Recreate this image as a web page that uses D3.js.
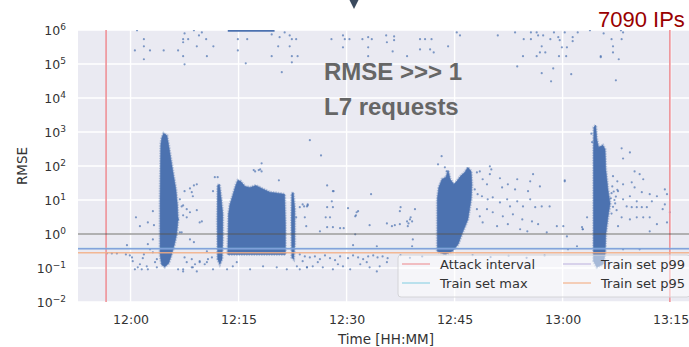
<!DOCTYPE html>
<html>
<head>
<meta charset="utf-8">
<script src="https://cdn.jsdelivr.net/npm/d3@7"></script>
<style>
body { margin: 0; background: #fff; }
svg { display: block; font-family: "DejaVu Sans", sans-serif; }
</style>
</head>
<body>
<div id="chart"></div>
<script>
//set margins height and width (plot runs a little past the right edge, like the cropped original)
const margin = { top: 30, right: -5, bottom: 45, left: 78 },
    complete_width = 689,
    complete_height = 347,
    width = complete_width - margin.left - margin.right,
    height = complete_height - margin.top - margin.bottom;

//---------------- data (minutes after 12:00, log10 of RMSE) ----------------
const x_domain = [-7.3, 78.25];
const y_exponents = [-2, -1, 0, 1, 2, 3, 4, 5, 6];
const attack_interval = [-3.4, 74.9];
//horizontal reference levels (RMSE)
const ref_levels = [
    { name: "threshold", value: 1.0 },
    { name: "Train set max", value: 0.375 },
    { name: "Train set p99", value: 0.37 },
    { name: "Train set p95", value: 0.28 }
];
//points piled up at the top of the axis
const saturated_band = [13.5, 20.0];

//dense clusters, outlines of the blobs
const cluster_1204 = [[4.2,2.64],[4.35,2.84],[4.6,2.96],[5.05,2.9],[5.3,2.6],[5.6,2.2],[5.95,1.75],[6.3,1.31],[6.5,0.87],[6.6,0.43],[6.4,-0.01],[6.1,-0.3],[5.7,-0.6],[5.3,-0.86],[4.75,-0.97],[4.3,-0.9],[4.1,-0.6],[4.1,1.02]];
const cluster_1212 = [[12.1,1.43],[12.35,1.46],[12.6,1.02],[12.8,0.58],[12.8,-0.16],[12.7,-0.74],[12.4,-0.89],[12.1,-0.74],[12.05,0.43]];
const cluster_1214 = [[13.5,-0.6],[13.6,0.58],[13.8,0.87],[14.2,1.14],[14.6,1.43],[14.9,1.58],[15.3,1.55],[15.9,1.4],[16.6,1.37],[17.4,1.43],[18.25,1.34],[19.35,1.23],[20.5,1.2],[21.4,1.17],[21.5,0.29],[21.5,-0.6]];
const cluster_1222 = [[22.4,1.19],[22.6,1.22],[22.8,0.73],[22.8,-0.3],[22.65,-0.74],[22.4,-0.69],[22.35,0.43]];
const cluster_1243 = [[42.6,-0.51],[42.6,1.02],[42.8,1.37],[43.25,1.61],[43.8,1.67],[44.1,1.87],[44.4,1.61],[44.9,1.46],[45.3,1.55],[45.9,1.72],[46.4,1.81],[46.85,1.96],[47.3,1.84],[47.4,1.46],[47.3,1.02],[46.85,0.43],[46.0,-0.01],[45.5,-0.3],[44.7,-0.51],[43.65,-0.6]];
const cluster_1304 = [[64.3,-0.8],[64.3,2.49],[64.35,3.14],[64.6,3.2],[64.75,2.79],[65.0,2.55],[65.6,2.61],[65.9,2.49],[66.0,1.9],[66.3,1.31],[66.6,0.9],[66.3,0.49],[66.0,-0.01],[65.9,-0.6],[65.6,-0.89],[64.75,-0.98]];

//sparse points
const top_points = [[0.9,5.99],[0.6,5.4],[1.85,5.73],[1.85,5.52],[1.85,5.14],[2.7,5.4],[4.6,5.4],[6.6,5.4],[7.3,5.73],[7.3,5.64],[7.5,5.9],[8.0,5.73],[8.8,5.99],[9.5,5.84],[9.9,5.93],[9.2,5.52],[10.5,5.73],[10.6,5.23],[11.5,5.52],[7.3,5.23],[7.5,4.99],[14.9,5.4],[14.9,5.73],[16.2,5.73],[16.0,5.02],[19.6,5.87],[20.7,5.79],[20.5,5.52],[21.4,5.93],[22.1,5.84],[22.4,5.73],[23.0,5.73],[22.1,5.52],[19.6,5.23],[22.4,5.23],[23.2,5.23],[22.4,5.05],[21.0,4.76],[27.9,5.73],[29.5,5.84],[29.75,5.73],[30.4,5.73],[29.5,5.49],[32.2,5.73],[33.0,5.79],[33.5,5.73],[33.0,5.49],[33.0,5.23],[35.5,5.84],[36.6,5.81],[35.6,5.64],[36.6,5.7],[36.4,5.37],[38.4,5.23],[40.2,5.73],[40.9,5.73],[41.8,5.73],[40.2,5.43],[41.6,5.43],[42.1,5.34],[44.1,5.52],[45.3,5.93],[45.75,5.84],[51.0,5.84],[53.4,5.93],[54.6,5.73],[55.6,5.93],[55.6,5.73],[56.4,5.93],[56.6,5.84],[57.3,5.84],[58.3,5.73],[58.8,5.93],[59.4,5.79],[59.6,5.7],[60.3,5.93],[61.4,5.79],[61.4,5.67],[62.1,5.93],[57.1,5.52],[56.85,5.34],[57.6,5.34],[59.9,5.49],[60.6,5.49],[54.5,5.23],[56.4,5.23],[59.5,5.23],[60.5,5.23],[65.3,5.23],[65.3,5.2],[63.8,5.99],[65.7,5.9],[66.8,5.73],[68.2,5.73],[67.0,5.52],[67.0,5.34],[67.8,5.14],[68.4,5.93],[53.7,4.93],[58.7,4.87],[57.1,4.73],[61.2,4.7],[58.4,4.49],[67.4,4.52],[68.1,5.99]];
const mid_points = [[12.1,1.67],[0.75,0.49],[3.1,0.67],[6.6,0.43],[7.1,0.81],[7.5,1.26],[8.25,1.34],[8.8,1.43],[8.65,1.11],[9.2,0.7],[9.6,0.34],[7.3,0.55],[7.8,0.73],[6.85,1.02],[24.9,2.76],[26.45,2.31],[18.2,2.08],[17.1,1.88],[17.8,1.88],[18.2,1.84],[20.6,1.58],[27.3,1.43],[28.2,1.26],[33.4,1.17],[37.5,0.79],[39.5,0.73],[30.2,0.76],[31.6,0.67],[31.3,0.55],[27.95,0.96],[28.1,0.79],[27.7,0.49],[27.1,0.49],[27.3,0.79],[27.3,0.2],[28.1,0.2],[29.1,0.17],[29.6,0.17],[23.5,0.79],[24.1,0.81],[24.6,0.84],[24.4,0.23],[23.0,0.49],[33.2,0.26],[35.6,0.31],[36.3,0.23],[37.4,0.29],[38.4,0.37],[38.8,0.43],[38.5,0.23],[38.6,0.31],[38.9,0.49],[39.1,0.37],[28.1,1.26],[24.6,0.87],[23.9,0.87],[24.2,0.49],[31.4,0.64],[31.2,0.52],[36.7,0.26],[37.4,0.67],[26.3,0.08],[43.2,2.29],[42.7,2.05],[43.65,1.96],[43.9,1.84],[7.8,0.49],[9.9,0.37],[8.25,0.64],[7.3,0.84],[8.5,1.23],[9.2,1.46],[11.45,1.26],[11.7,1.67],[17.3,1.84],[18.0,1.9],[24.5,0.81],[2.4,0.34],[1.3,0.23],[3.25,0.26],[7.1,0.05],[6.85,0.05]];
const low_points = [[-3.3,-0.57],[-2.6,-0.57],[-1.9,-0.57],[-0.5,-0.33],[-0.65,-0.6],[-0.1,-0.63],[0.2,-0.69],[0.3,-0.8],[0.6,-1.04],[1.0,-0.98],[1.3,-0.89],[1.55,-1.04],[1.7,-0.71],[2.25,-0.95],[2.4,-1.04],[3.1,-0.54],[3.4,-0.83],[3.65,-0.74],[2.4,-0.3],[6.6,-1.04],[7.3,-1.1],[7.8,-0.83],[8.5,-0.98],[8.95,-0.89],[9.2,-1.1],[9.6,-0.8],[10.3,-0.89],[10.75,-0.74],[11.3,-0.69],[11.45,-1.04],[13.4,-1.04],[14.2,-0.95],[8.25,-0.16],[8.8,-0.24],[10.6,-0.51],[3.65,-0.98],[7.5,-0.69],[8.5,-0.74],[10.6,-0.83],[14.75,-0.83],[16.6,-1.04],[18.4,-0.95],[20.3,-0.98],[21.7,-1.04],[23.1,-0.95],[23.9,-0.8],[24.5,-0.98],[23.5,-1.04],[7.3,-1.04],[8.65,-0.98],[9.6,-0.83],[3.1,-0.16],[2.7,-0.45],[1.85,-0.6],[23.5,-0.6],[24.2,-0.66],[24.9,-0.69],[25.6,-0.66],[26.3,-0.74],[27.0,-0.63],[27.7,-0.71],[28.4,-0.77],[29.1,-0.66],[30.2,-0.71],[30.9,-0.63],[31.6,-0.69],[32.3,-0.74],[33.0,-0.66],[33.7,-0.63],[34.3,-0.69],[35.0,-0.66],[35.7,-0.71],[25.3,-0.95],[26.7,-0.98],[28.1,-1.04],[29.5,-0.95],[30.5,-1.04],[31.9,-0.89],[33.2,-0.98],[34.6,-0.95],[35.6,-0.83],[24.5,-0.98],[28.8,-0.89],[32.8,-0.83],[26.0,-0.83],[34.2,-1.1],[31.2,-0.01],[30.9,-0.33],[34.2,-0.36],[39.2,-0.16],[39.1,-0.36],[37.5,-0.62],[38.8,-0.7],[40.5,-0.66],[47.5,-0.62],[50.0,-0.68],[52.5,-0.64],[55.0,-0.7],[57.5,-0.63],[60.75,-0.45],[62.0,-0.36],[60.6,-0.07],[68.4,-0.45],[70.7,-0.45],[62.8,0.14]];
const right_points = [[48.1,1.81],[48.5,1.84],[49.9,1.99],[50.1,1.9],[49.9,1.76],[48.9,1.61],[49.5,1.46],[51.3,1.64],[51.6,1.37],[52.4,1.46],[53.7,1.61],[53.4,1.31],[55.5,1.55],[55.9,1.76],[56.85,1.4],[55.2,1.26],[60.3,1.58],[48.8,1.11],[49.6,1.02],[50.3,1.08],[51.3,0.93],[52.3,1.02],[52.7,0.81],[53.7,0.96],[54.5,0.81],[55.5,1.02],[56.2,0.79],[57.1,0.81],[58.2,0.81],[50.3,0.64],[51.7,0.52],[53.1,0.58],[54.4,0.43],[55.75,0.37],[56.6,0.29],[59.2,0.23],[60.1,0.23],[48.9,0.34],[50.9,0.23],[52.4,0.29],[54.1,0.14],[55.1,0.08],[57.8,0.05],[63.4,0.49],[62.7,0.2],[48.1,0.73],[48.5,0.52],[49.5,0.73],[47.8,1.31],[48.2,1.17],[68.2,2.52],[69.35,2.4],[68.4,2.22],[70.0,1.84],[67.0,1.7],[67.6,1.55],[68.4,1.46],[69.6,1.52],[70.0,1.37],[71.0,1.23],[72.1,1.17],[73.1,1.11],[74.2,1.31],[74.5,1.17],[69.35,1.11],[70.3,0.96],[68.9,0.81],[69.6,0.79],[70.3,0.79],[71.0,0.79],[71.7,0.79],[72.4,0.96],[68.2,0.49],[69.35,0.43],[70.3,0.49],[71.2,0.49],[72.1,0.49],[73.1,0.29],[74.2,0.87],[74.9,0.64],[74.5,0.34],[67.7,0.23],[72.1,0.08],[68.4,1.02],[67.7,1.26],[73.9,0.73],[60.3,1.55],[62.8,0.14],[71.2,1.61],[70.7,1.76],[64.0,2.95],[64.1,2.7],[66.8,1.2],[67.2,1.0],[67.0,0.8],[67.4,1.1],[66.9,1.4],[67.3,0.9],[67.6,1.3],[66.8,0.6],[67.5,0.7],[66.7,1.05],[67.1,1.25]];

const legend_entries = ["Attack interval", "Train set max", "Train set p99", "Train set p95"];

//colours
const blue = "#4c72b0";
const level_colors = { "threshold": "#555555", "Train set max": "#8cd0e4", "Train set p99": "#7f9ad8", "Train set p95": "#f3ae84" };
const attack_color = "#ee9197";

//---------------- scales ----------------
const base = new Date(2021, 0, 1, 12, 0);
const toDate = m => new Date(base.getTime() + m * 60000);

const x = d3.scaleTime()
    .domain(x_domain.map(toDate))
    .range([0, width]);
const y = d3.scaleLog()
    .domain([1e-2, 1e6])
    .range([height, 0]);
const px = d => x(toDate(d[0]));
const py = d => y(Math.pow(10, d[1]));

const svg = d3.select("#chart")
    .append("svg")
    .attr("width", complete_width)
    .attr("height", complete_height);

const g = svg.append("g")
    .attr("transform", `translate(${margin.left},${margin.top})`);

svg.append("defs").append("clipPath")
    .attr("id", "plot_clip")
    .append("rect")
    .attr("width", width)
    .attr("height", height);

//background + grid
g.append("rect")
    .attr("width", width)
    .attr("height", height)
    .attr("fill", "#eaeaf2");

const x_ticks = x.ticks(d3.timeMinute.every(15));
g.append("g").selectAll("line")
    .data(x_ticks)
    .join("line")
    .attr("x1", d => x(d)).attr("x2", d => x(d))
    .attr("y1", 0).attr("y2", height)
    .attr("stroke", "#fff")
    .attr("stroke-width", 1.4);
g.append("g").selectAll("line")
    .data(y_exponents)
    .join("line")
    .attr("x1", 0).attr("x2", width)
    .attr("y1", d => y(Math.pow(10, d))).attr("y2", d => y(Math.pow(10, d)))
    .attr("stroke", "#fff")
    .attr("stroke-width", 1.4);

const plot = g.append("g").attr("clip-path", "url(#plot_clip)");

//dense clusters (soft edge first, then the solid core)
const outline = d3.line().x(px).y(py).curve(d3.curveLinearClosed);
const clusters = [cluster_1204, cluster_1212, cluster_1214, cluster_1222, cluster_1243, cluster_1304];
plot.append("g").selectAll("path")
    .data(clusters)
    .join("path")
    .attr("d", outline)
    .attr("fill", "none")
    .attr("stroke", blue)
    .attr("stroke-width", 3)
    .attr("stroke-opacity", 0.35)
    .attr("stroke-dasharray", "1.5 1");
plot.append("g").selectAll("path")
    .data(clusters)
    .join("path")
    .attr("d", outline)
    .attr("fill", blue)
    .attr("stroke", blue)
    .attr("stroke-width", 0.6);

//saturated points at the top
plot.append("line")
    .attr("x1", x(toDate(saturated_band[0])))
    .attr("x2", x(toDate(saturated_band[1])))
    .attr("y1", y(1e6) + 0.8)
    .attr("y2", y(1e6) + 0.8)
    .attr("stroke", blue)
    .attr("stroke-width", 2);

//sparse points
plot.append("g").selectAll("circle")
    .data(top_points.concat(mid_points, low_points, right_points))
    .join("circle")
    .attr("cx", px)
    .attr("cy", py)
    .attr("r", 1.1)
    .attr("fill", blue)
    .attr("fill-opacity", 0.7);

//attack interval
plot.append("g").selectAll("line")
    .data(attack_interval)
    .join("line")
    .attr("x1", d => x(toDate(d))).attr("x2", d => x(toDate(d)))
    .attr("y1", 0).attr("y2", height)
    .attr("stroke", attack_color)
    .attr("stroke-width", 1.6);

//reference levels
plot.append("g").selectAll("line")
    .data(ref_levels)
    .join("line")
    .attr("x1", 0).attr("x2", width)
    .attr("y1", d => y(d.value)).attr("y2", d => y(d.value))
    .attr("stroke", d => level_colors[d.name])
    .attr("stroke-opacity", d => d.name == "threshold" ? 0.6 : 0.85)
    .attr("stroke-width", 1.4);

//---------------- axes ----------------
const x_axis = g.append("g")
    .attr("transform", `translate(0,${height})`)
    .call(d3.axisBottom(x).ticks(d3.timeMinute.every(15)).tickFormat(d3.timeFormat("%H:%M")).tickSize(0).tickPadding(13));
x_axis.select(".domain").remove();
x_axis.selectAll("text").attr("font-size", "12.5px").attr("fill", "#333").attr("font-family", "DejaVu Sans");

const y_axis = g.append("g")
    .call(d3.axisLeft(y).tickValues(y_exponents.map(e => Math.pow(10, e))).tickSize(0).tickPadding(12));
y_axis.select(".domain").remove();
y_axis.selectAll("text")
    .attr("font-size", "12.5px").attr("fill", "#333").attr("font-family", "DejaVu Sans")
    .text(null)
    .each(function (d) {
        const e = Math.round(Math.log10(d));
        const t = d3.select(this);
        t.append("tspan").text("10");
        t.append("tspan").attr("dy", "-0.5em").attr("font-size", "9px")
            .text(e < 0 ? "\u2212" + Math.abs(e) : e);
    });

svg.append("text")
    .attr("transform", `translate(27,${margin.top + height / 2}) rotate(-90)`)
    .attr("text-anchor", "middle")
    .attr("font-size", "13.5px")
    .attr("fill", "#333")
    .text("RMSE");
svg.append("text")
    .attr("x", margin.left + width / 2)
    .attr("y", 344)
    .attr("text-anchor", "middle")
    .attr("font-size", "13.5px")
    .attr("fill", "#333")
    .text("Time [HH:MM]");

//---------------- legend ----------------
const legend = svg.append("g").attr("transform", "translate(398,255)");
legend.append("rect")
    .attr("width", 292).attr("height", 42)
    .attr("rx", 3)
    .attr("fill", "#fff").attr("fill-opacity", 0.5)
    .attr("stroke", "#d4d4d8");
const legend_colors = [attack_color, level_colors["Train set max"], "#c2b6e2", level_colors["Train set p95"]];
const legend_item = legend.selectAll("g")
    .data(legend_entries)
    .join("g")
    .attr("transform", (d, i) => `translate(${i < 2 ? 4 : 165},${i % 2 == 0 ? 9 : 28})`);
legend_item.append("line")
    .attr("x1", 0).attr("x2", 28)
    .attr("stroke", (d, i) => legend_colors[i])
    .attr("stroke-opacity", 0.75)
    .attr("stroke-width", 1.5);
legend_item.append("text")
    .attr("x", 38)
    .attr("y", 4.5)
    .attr("font-size", "13px")
    .attr("fill", "#333")
    .text(d => d);

//---------------- slide annotations ----------------
svg.append("text")
    .attr("x", 324).attr("y", 80)
    .attr("font-family", "Liberation Sans, Arial, sans-serif")
    .attr("font-weight", "bold")
    .attr("font-size", "24px")
    .attr("fill", "#666")
    .text("RMSE >>> 1");
svg.append("text")
    .attr("x", 324).attr("y", 115)
    .attr("font-family", "Liberation Sans, Arial, sans-serif")
    .attr("font-weight", "bold")
    .attr("font-size", "24px")
    .attr("fill", "#666")
    .text("L7 requests");
svg.append("text")
    .attr("x", 598).attr("y", 27)
    .attr("font-family", "Liberation Sans, Arial, sans-serif")
    .attr("font-size", "22px")
    .attr("fill", "#990000")
    .text("7090 IPs");
//arrow tip from the slide above
svg.append("path")
    .attr("d", "M349.5,0 L358.5,0 L354,9 Z")
    .attr("fill", "#3b4a5e");
</script>
</body>
</html>
